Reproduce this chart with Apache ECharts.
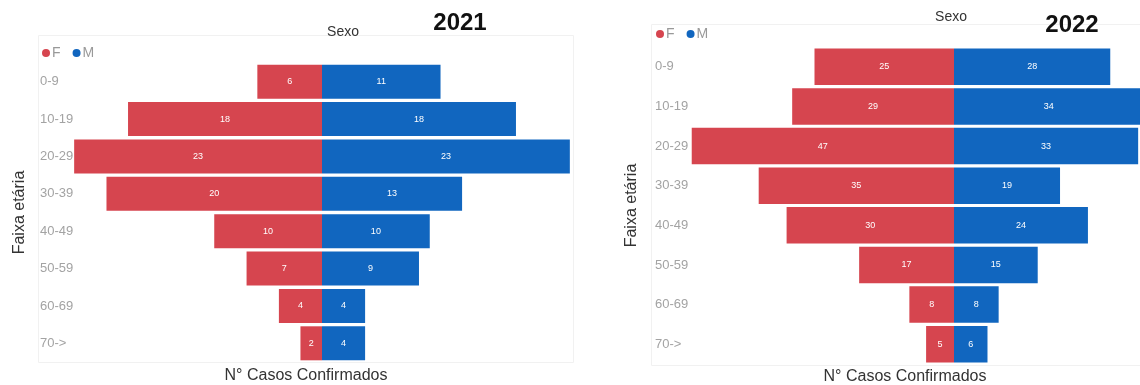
<!DOCTYPE html>
<html>
<head>
<meta charset="utf-8">
<script src="https://cdn.jsdelivr.net/npm/echarts@6/dist/echarts.min.js"></script>
<style>html,body{margin:0;padding:0;background:#fff;}#c{width:1140px;height:385px;}</style>
</head>
<body>
<div id="c"></div>
<script>
const categories = ['0-9', '10-19', '20-29', '30-39', '40-49', '50-59', '60-69', '70->'];
const f2021 = [6, 18, 23, 20, 10, 7, 4, 2];
const m2021 = [11, 18, 23, 13, 10, 9, 4, 4];
const f2022 = [25, 29, 47, 35, 30, 17, 8, 5];
const m2022 = [28, 34, 33, 19, 24, 15, 8, 6];

const RED = '#D6454F';
const BLUE = '#1166BF';
const FONT = 'Liberation Sans, Arial, sans-serif';

const chart = echarts.init(document.getElementById('c'), null, {renderer: 'canvas'});

function yAx(gi, margin) {
  return {
    type: 'category', gridIndex: gi, data: categories, inverse: true,
    axisLine: {show: false}, axisTick: {show: false}, splitLine: {show: false},
    axisLabel: {align: 'left', margin: margin, color: '#a3a3a3', fontSize: 13, fontFamily: FONT},
    name: 'Faixa etária', nameLocation: 'middle', nameRotate: 90,
    nameGap: gi === 0 ? 44 : 50,
    nameTextStyle: {color: '#333', fontSize: 16, fontFamily: FONT}
  };
}
function bar(name, data, color, gi, neg, gap) {
  return {
    name: name, type: 'bar', xAxisIndex: gi, yAxisIndex: gi,
    data: data.map(v => neg ? -v : v),
    itemStyle: {color: color},
    barGap: '-100%', barCategoryGap: gap, clip: false,
    label: {show: true, position: 'inside', color: '#fff', fontSize: 9, fontFamily: FONT,
      formatter: p => Math.abs(p.value)}
  };
}
function txt(text, x, y, size, weight, color) {
  return {type: 'text', x: x, y: y, z: 10,
    style: {text: text, fill: color || '#333', font: (weight || 'normal') + ' ' + size + 'px ' + FONT,
      textAlign: 'center', textVerticalAlign: 'middle'}};
}

chart.setOption({
  animation: false,
  grid: [
    {left: 72, top: 63, width: 500, height: 299},
    {left: 690, top: 47, width: 450, height: 317}
  ],
  xAxis: [
    {type: 'value', gridIndex: 0, min: -23.2, max: 23.2, show: false},
    {type: 'value', gridIndex: 1, min: -47.31, max: 33.33, show: false}
  ],
  yAxis: [yAx(0, 32), yAx(1, 35)],
  legend: [
    {left: 37, top: 41, icon: 'circle', itemWidth: 8, itemHeight: 8, itemGap: 12,
      data: ['F', 'M'], textStyle: {color: '#999', fontSize: 14, fontFamily: FONT, padding: [0, 0, 0, -3]}},
    {left: 651, top: 22, icon: 'circle', itemWidth: 8, itemHeight: 8, itemGap: 12,
      data: ['F', 'M'], textStyle: {color: '#999', fontSize: 14, fontFamily: FONT, padding: [0, 0, 0, -3]}}
  ],
  series: [
    bar('F', f2021, RED, 0, true, '9%'),
    bar('M', m2021, BLUE, 0, false, '9%'),
    bar('F', f2022, RED, 1, true, '8%'),
    bar('M', m2022, BLUE, 1, false, '8%')
  ],
  graphic: [
    {type: 'rect', shape: {x: 38.5, y: 35.5, width: 535, height: 327}, style: {fill: 'none', stroke: '#f1f1f1', lineWidth: 1}, z: -1},
    {type: 'rect', shape: {x: 651.5, y: 24.5, width: 500, height: 341}, style: {fill: 'none', stroke: '#f1f1f1', lineWidth: 1}, z: -1},
    txt('Sexo', 343, 32, 14, 'normal', '#333'),
    txt('2021', 460, 23, 24, 'bold', '#111'),
    txt('N° Casos Confirmados', 306, 376, 16, 'normal', '#333'),
    txt('Sexo', 951, 17, 14, 'normal', '#333'),
    txt('2022', 1072, 25, 24, 'bold', '#111'),
    txt('N° Casos Confirmados', 905, 377, 16, 'normal', '#333')
  ]
});
</script>
</body>
</html>
